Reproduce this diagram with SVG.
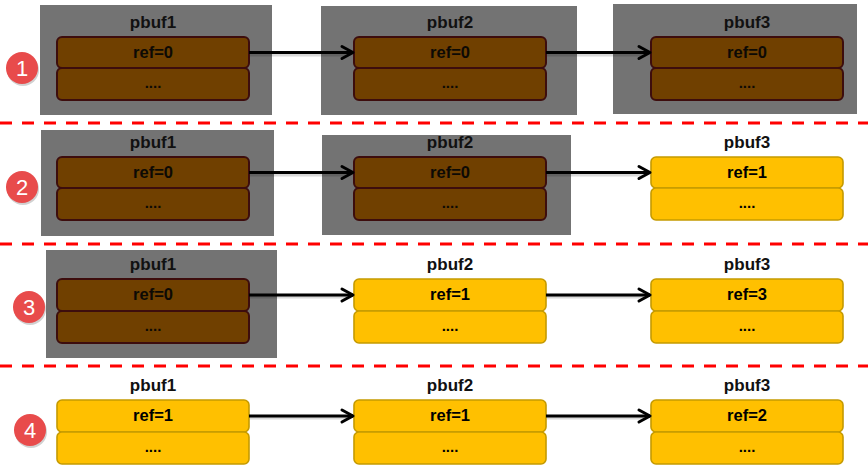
<svg xmlns="http://www.w3.org/2000/svg" width="868" height="473" viewBox="0 0 868 473">
<defs>
<style>
.bg{fill:#ffffff}
.freed{fill:#737373}
.brown{fill:#704000;stroke:#3d0d0d;stroke-width:2}
.yellow{fill:#FFC000;stroke:#C59A00;stroke-width:1.6}
.lbl{font-family:"Liberation Sans",Arial,sans-serif;font-weight:bold;font-size:17px;text-anchor:middle;fill:#111}
.ref{font-family:"Liberation Sans",Arial,sans-serif;font-weight:bold;font-size:16.5px;text-anchor:middle;fill:#000}
.dots{font-family:"Liberation Sans",Arial,sans-serif;font-weight:bold;font-size:15px;text-anchor:middle;fill:#000}
.dim{fill:#0d0a05}
.sep{stroke:#FF0000;stroke-width:3;stroke-dasharray:12 10}
.conn{stroke:#000;stroke-width:3;fill:none;marker-end:url(#chev)}
.connsh{stroke:#000;stroke-opacity:0.15;stroke-width:3;fill:none}
.step{fill:#E84B4B}
.stepsh{fill:#000;fill-opacity:0.18}
.num{font-family:"Liberation Sans",Arial,sans-serif;font-size:22px;text-anchor:middle;fill:#fff}
</style>
<marker id="chev" markerUnits="userSpaceOnUse" markerWidth="16" markerHeight="16" refX="13" refY="8" orient="auto" overflow="visible">
<path d="M2,2 L13,8 L2,14" fill="none" stroke="#000" stroke-width="3" stroke-linecap="round" stroke-linejoin="round"/>
</marker>
</defs>
<rect class="bg" x="0" y="0" width="868" height="473"/>

<g id="separators">
<line class="sep" x1="0" y1="123" x2="868" y2="123"/>
<line class="sep" x1="0" y1="244" x2="868" y2="244"/>
<line class="sep" x1="0" y1="366" x2="868" y2="366"/>
</g>

<g id="steps">
<g id="step1"><circle class="stepsh" cx="23" cy="70" r="16"/><circle class="step" cx="22" cy="68" r="16"/><text class="num" x="22" y="76">1</text></g>
<g id="step2"><circle class="stepsh" cx="23" cy="189" r="16"/><circle class="step" cx="22" cy="187" r="16"/><text class="num" x="22" y="195">2</text></g>
<g id="step3"><circle class="stepsh" cx="30" cy="309" r="16"/><circle class="step" cx="29" cy="307" r="16"/><text class="num" x="29" y="315">3</text></g>
<g id="step4"><circle class="stepsh" cx="31" cy="432" r="16"/><circle class="step" cx="30" cy="430" r="16"/><text class="num" x="30" y="438">4</text></g>
</g>

<!-- Row 1 -->
<g id="r1-pbuf1">
<rect class="freed" x="40" y="5" width="232" height="110"/>
<text class="lbl" x="153" y="28">pbuf1</text>
<rect class="brown" x="57" y="37" width="192" height="31" rx="5"/>
<rect class="brown" x="57" y="68" width="192" height="32" rx="5"/>
<text class="ref dim" x="153" y="58">ref=0</text>
<text class="dots dim" x="153" y="88">....</text>
</g>
<g id="r1-pbuf2">
<rect class="freed" x="321" y="6" width="256" height="109"/>
<text class="lbl" x="450" y="28">pbuf2</text>
<rect class="brown" x="354" y="37" width="192" height="31" rx="5"/>
<rect class="brown" x="354" y="68" width="192" height="32" rx="5"/>
<text class="ref dim" x="450" y="58">ref=0</text>
<text class="dots dim" x="450" y="88">....</text>
</g>
<g id="r1-pbuf3">
<rect class="freed" x="613" y="4" width="244" height="110"/>
<text class="lbl" x="747" y="28">pbuf3</text>
<rect class="brown" x="651" y="37" width="192" height="31" rx="5"/>
<rect class="brown" x="651" y="68" width="192" height="32" rx="5"/>
<text class="ref dim" x="747" y="58">ref=0</text>
<text class="dots dim" x="747" y="88">....</text>
</g>

<!-- Row 2 -->
<g id="r2-pbuf1">
<rect class="freed" x="41" y="130" width="233" height="106"/>
<text class="lbl" x="153" y="148">pbuf1</text>
<rect class="brown" x="57" y="157" width="192" height="31" rx="5"/>
<rect class="brown" x="57" y="188" width="192" height="32" rx="5"/>
<text class="ref dim" x="153" y="178">ref=0</text>
<text class="dots dim" x="153" y="208">....</text>
</g>
<g id="r2-pbuf2">
<rect class="freed" x="322" y="135" width="249" height="100"/>
<text class="lbl" x="450" y="148">pbuf2</text>
<rect class="brown" x="354" y="157" width="192" height="31" rx="5"/>
<rect class="brown" x="354" y="188" width="192" height="32" rx="5"/>
<text class="ref dim" x="450" y="178">ref=0</text>
<text class="dots dim" x="450" y="208">....</text>
</g>
<g id="r2-pbuf3">
<text class="lbl" x="747" y="148">pbuf3</text>
<rect class="yellow" x="651" y="157" width="192" height="31" rx="5"/>
<rect class="yellow" x="651" y="188" width="192" height="32" rx="5"/>
<text class="ref" x="747" y="178">ref=1</text>
<text class="dots" x="747" y="208">....</text>
</g>

<!-- Row 3 -->
<g id="r3-pbuf1">
<rect class="freed" x="46" y="250" width="231" height="108"/>
<text class="lbl" x="153" y="270">pbuf1</text>
<rect class="brown" x="57" y="279" width="192" height="32" rx="5"/>
<rect class="brown" x="57" y="311" width="192" height="32" rx="5"/>
<text class="ref dim" x="153" y="300">ref=0</text>
<text class="dots dim" x="153" y="331">....</text>
</g>
<g id="r3-pbuf2">
<text class="lbl" x="450" y="270">pbuf2</text>
<rect class="yellow" x="354" y="279" width="192" height="32" rx="5"/>
<rect class="yellow" x="354" y="311" width="192" height="32" rx="5"/>
<text class="ref" x="450" y="300">ref=1</text>
<text class="dots" x="450" y="331">....</text>
</g>
<g id="r3-pbuf3">
<text class="lbl" x="747" y="270">pbuf3</text>
<rect class="yellow" x="651" y="279" width="192" height="32" rx="5"/>
<rect class="yellow" x="651" y="311" width="192" height="32" rx="5"/>
<text class="ref" x="747" y="300">ref=3</text>
<text class="dots" x="747" y="331">....</text>
</g>

<!-- Row 4 -->
<g id="r4-pbuf1">
<text class="lbl" x="153" y="391">pbuf1</text>
<rect class="yellow" x="57" y="400" width="192" height="32" rx="5"/>
<rect class="yellow" x="57" y="432" width="192" height="32" rx="5"/>
<text class="ref" x="153" y="421">ref=1</text>
<text class="dots" x="153" y="452">....</text>
</g>
<g id="r4-pbuf2">
<text class="lbl" x="450" y="391">pbuf2</text>
<rect class="yellow" x="354" y="400" width="192" height="32" rx="5"/>
<rect class="yellow" x="354" y="432" width="192" height="32" rx="5"/>
<text class="ref" x="450" y="421">ref=1</text>
<text class="dots" x="450" y="452">....</text>
</g>
<g id="r4-pbuf3">
<text class="lbl" x="747" y="391">pbuf3</text>
<rect class="yellow" x="651" y="400" width="192" height="32" rx="5"/>
<rect class="yellow" x="651" y="432" width="192" height="32" rx="5"/>
<text class="ref" x="747" y="421">ref=2</text>
<text class="dots" x="747" y="452">....</text>
</g>

<g id="connectors">
<path class="connsh" d="M250,55 H348"/>
<path class="connsh" d="M547,55 H645"/>
<path class="connsh" d="M250,175 H348"/>
<path class="connsh" d="M547,175 H645"/>
<path class="connsh" d="M250,297 H348"/>
<path class="connsh" d="M547,297 H645"/>
<path class="connsh" d="M250,418 H348"/>
<path class="connsh" d="M547,418 H645"/>
<path class="conn" d="M249,52.5 H353"/>
<path class="conn" d="M546,52.5 H650"/>
<path class="conn" d="M249,172.5 H353"/>
<path class="conn" d="M546,172.5 H650"/>
<path class="conn" d="M249,295 H353"/>
<path class="conn" d="M546,295 H650"/>
<path class="conn" d="M249,416 H353"/>
<path class="conn" d="M546,416 H650"/>
</g>
</svg>
